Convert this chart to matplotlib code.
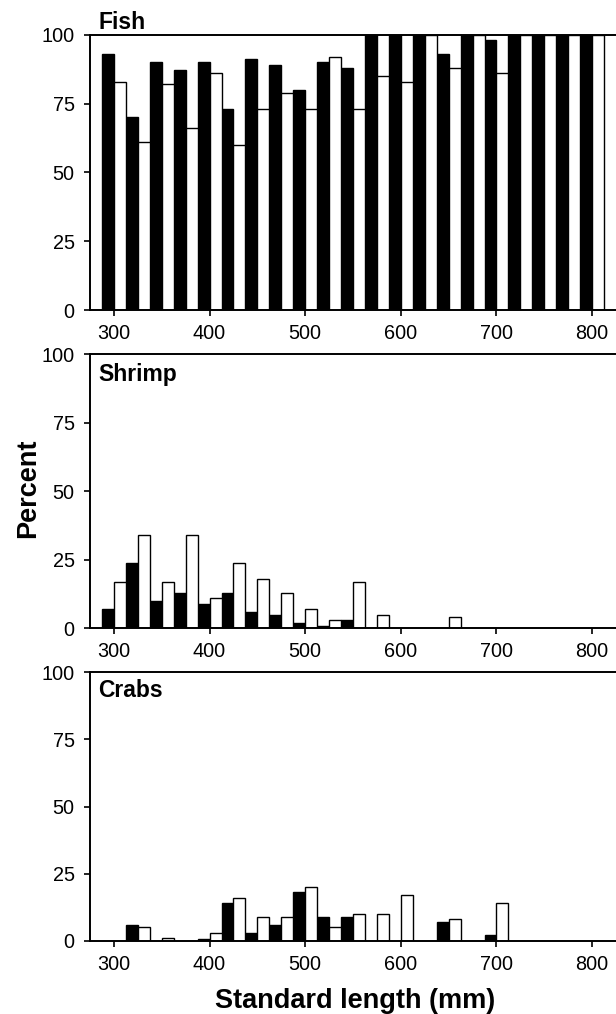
import numpy as np
import matplotlib
matplotlib.use("Agg")
import matplotlib.pyplot as plt

plt.rcParams['font.family'] = ['Liberation Sans', 'DejaVu Sans']

# --- data: percent occurrence per 25 mm length class (black / white bars) ---
bins = np.array([300, 325, 350, 375, 400, 425, 450, 475, 500, 525, 550,
                 575, 600, 625, 650, 675, 700, 725, 750, 775, 800])

fish_black = [93, 70, 90, 87, 90, 73, 91, 89, 80, 90, 88,
              100, 100, 100, 93, 100, 98, 100, 100, 100, 100]
fish_white = [83, 61, 82, 66, 86, 60, 73, 79, 73, 92, 73,
              85, 83, 100, 88, 100, 86, 100, 100, 100, 100]

shrimp_black = [7, 24, 10, 13, 9, 13, 6, 5, 2, 1, 3,
                0, 0, 0, 0, 0, 0, 0, 0, 0, 0]
shrimp_white = [17, 34, 17, 34, 11, 24, 18, 13, 7, 3, 17,
                5, 0, 0, 4, 0, 0, 0, 0, 0, 0]

crab_black = [0, 6, 0, 0, 0.7, 14, 3, 6, 18, 9, 9,
              0, 0, 0, 7, 0, 2, 0, 0, 0, 0]
crab_white = [0, 5, 1, 0, 3, 16, 9, 9, 20, 5, 10,
              10, 17, 0, 8, 0, 14, 0, 0, 0, 0]

panels = [("Fish", fish_black, fish_white),
          ("Shrimp", shrimp_black, shrimp_white),
          ("Crabs", crab_black, crab_white)]

xticks = [300, 400, 500, 600, 700, 800]
yticks = [0, 25, 50, 75, 100]

W, H = 616, 1014
fig = plt.figure(figsize=(W / 100, H / 100), dpi=100)

# axes boxes in pixels (top, bottom) from the top of the picture,
# plus the baseline of each panel's name
boxes = [(34.7, 310.0), (354.3, 628.3), (672.3, 940.7)]
name_base = [29, 381, 697]
left_px, right_px = 90, 616

for (name, blk, wht), (top, bot), nb in zip(panels, boxes, name_base):
    ax = fig.add_axes([left_px / W, 1 - bot / H,
                       (right_px - left_px) / W, (bot - top) / H])
    ax.bar(bins - 6.25, blk, width=12.5, color='black', edgecolor='black',
           linewidth=1.0, zorder=2)
    ax.bar(bins + 6.25, wht, width=12.5, color='white', edgecolor='black',
           linewidth=1.0, zorder=2)
    ax.set_xlim(275, 825)
    ax.set_ylim(0, 100)
    ax.set_xticks(xticks)
    ax.set_yticks(yticks)
    ax.tick_params(axis='both', direction='out', length=4, width=1.2,
                   labelsize=14.3, color='black')
    ax.tick_params(axis='x', pad=6)
    ax.tick_params(axis='y', pad=7)
    for s in ['left', 'bottom', 'top']:
        ax.spines[s].set_linewidth(1.4)
    ax.spines['right'].set_visible(False)

    fig.text(98 / W, 1 - nb / H, name, fontsize=16.5, fontweight='bold',
             ha='left', va='baseline')

fig.text(28 / W, 1 - 488 / H, "Percent", rotation=90, fontsize=19.5,
         fontweight='bold', ha='center', va='center')
fig.text(355 / W, 1 - 1008 / H, "Standard length (mm)", fontsize=19.5,
         fontweight='bold', ha='center', va='baseline')

fig.savefig("out.png", dpi=100)
